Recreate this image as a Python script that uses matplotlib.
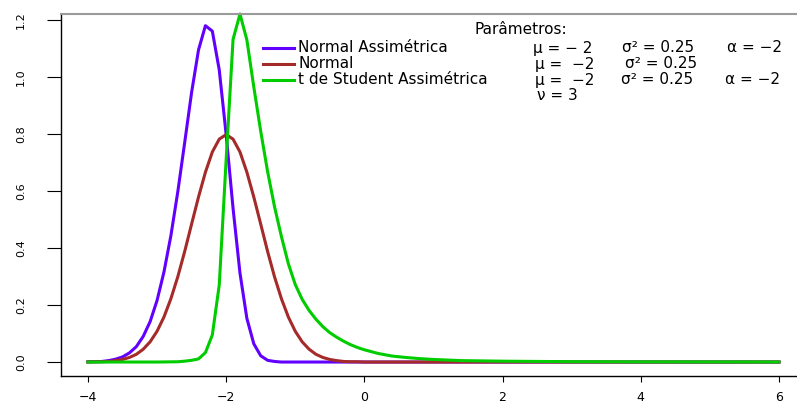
import matplotlib
matplotlib.use("Agg")
import matplotlib.pyplot as plt
from matplotlib.lines import Line2D

plt.rcParams['font.family'] = ['DejaVu Sans']

# Normal Assimétrica (mu=-2, s2=0.25, alpha=-2)
x_sn = [-4.0, -3.9, -3.8, -3.7, -3.6, -3.5, -3.4, -3.3, -3.2, -3.1, -3.0,
        -2.9, -2.8, -2.7, -2.6, -2.5, -2.4, -2.3, -2.2, -2.1, -2.0,
        -1.9, -1.8, -1.7, -1.6, -1.5, -1.4, -1.3, -1.2, 6.0]
y_sn = [0.001, 0.001, 0.002, 0.005, 0.010, 0.018, 0.032, 0.054, 0.090, 0.142, 0.216,
        0.316, 0.443, 0.597, 0.770, 0.946, 1.095, 1.180, 1.161, 1.025, 0.798,
        0.539, 0.312, 0.153, 0.064, 0.022, 0.006, 0.002, 0.000, 0.000]

# Normal (mu=-2, s2=0.25)
x_n = [-4.0, -3.9, -3.8, -3.7, -3.6, -3.5, -3.4, -3.3, -3.2, -3.1, -3.0,
       -2.9, -2.8, -2.7, -2.6, -2.5, -2.4, -2.3, -2.2, -2.1, -2.0,
       -1.9, -1.8, -1.7, -1.6, -1.5, -1.4, -1.3, -1.2, -1.1, -1.0,
       -0.9, -0.8, -0.7, -0.6, -0.5, -0.4, -0.3, -0.2, -0.1, 0.0, 6.0]
y_n = [0.000, 0.001, 0.001, 0.002, 0.005, 0.009, 0.016, 0.027, 0.045, 0.071, 0.108,
       0.158, 0.222, 0.299, 0.388, 0.484, 0.579, 0.666, 0.737, 0.782, 0.798,
       0.782, 0.737, 0.666, 0.579, 0.484, 0.388, 0.299, 0.222, 0.158, 0.108,
       0.071, 0.045, 0.027, 0.016, 0.009, 0.005, 0.002, 0.001, 0.001, 0.000, 0.000]

# t de Student Assimétrica (mu=-2, s2=0.25, alpha=-2, nu=3)
x_st = [-4.0, -3.0, -2.7, -2.6, -2.5, -2.4, -2.3, -2.2, -2.1, -2.0,
        -1.9, -1.8, -1.7, -1.6, -1.5, -1.4, -1.3, -1.2, -1.1, -1.0,
        -0.9, -0.8, -0.7, -0.6, -0.5, -0.4, -0.3, -0.2, -0.1, 0.0,
        0.2, 0.4, 0.6, 0.8, 1.0, 1.4, 2.0, 3.0, 4.0, 6.0]
y_st = [0.000, 0.000, 0.001, 0.003, 0.006, 0.011, 0.033, 0.095, 0.270, 0.710,
        1.132, 1.221, 1.130, 0.965, 0.810, 0.668, 0.545, 0.440, 0.345, 0.272,
        0.220, 0.181, 0.150, 0.124, 0.103, 0.087, 0.073, 0.061, 0.051, 0.043,
        0.030, 0.021, 0.016, 0.012, 0.009, 0.005, 0.003, 0.0012, 0.0006, 0.0002]

labels = ["Normal Assimétrica", "Normal", "t de Student Assimétrica"]
colors = ["#6200ff", "#a52a2a", "#00cc00"]

W, H = 797, 404
fig = plt.figure(figsize=(W / 100, H / 100), dpi=100)
ax = fig.add_axes([61 / W, 28 / H, (806.6 - 61) / W, (376 - 14) / H])

for xs, ys, c in zip([x_sn, x_n, x_st], [y_sn, y_n, y_st], colors):
    ax.plot(xs, ys, color=c, lw=2.2, clip_on=False)

ax.set_xlim(-4.39, 6.4)
ax.set_ylim(-0.049, 1.221)
ax.set_xticks([-4, -2, 0, 2, 4, 6])
ax.set_yticks([0, 0.2, 0.4, 0.6, 0.8, 1.0, 1.2])
ax.set_yticklabels(["0.0", "0.2", "0.4", "0.6", "0.8", "1.0", "1.2"],
                   rotation=90, va='center')
ax.tick_params(axis='y', length=10, width=0.8, pad=15, labelsize=8, colors='black')
ax.tick_params(axis='x', length=4.5, width=0.8, pad=6.5, labelsize=9)
ax.spines['right'].set_visible(False)
ax.spines['top'].set_color('#9a9a9a')
ax.spines['top'].set_linewidth(1.5)
for s in ['left', 'bottom']:
    ax.spines[s].set_linewidth(1.0)

# legend written by hand, positions in pixels
def fx(px):
    return px / W

def fy(py):
    return 1 - py / H

fs = 11
fig.text(fx(521), fy(29), "Parâmetros:", ha='center', va='center', fontsize=fs)
rows_y = [48, 64, 80]
for lab, c, ry in zip(labels, colors, rows_y):
    fig.add_artist(Line2D([fx(263), fx(294)], [fy(ry), fy(ry)], color=c, lw=2.2))
    fig.text(fx(298), fy(ry), lab, ha='left', va='center', fontsize=fs)

params = [
    (533, 48, "μ = − 2"), (622, 48, "σ² = 0.25"), (727, 48, "α = −2"),
    (535, 64, "μ =  −2"), (625, 64, "σ² = 0.25"),
    (535, 80, "μ =  −2"), (621, 80, "σ² = 0.25"), (725, 80, "α = −2"),
    (537, 96, "ν = 3"),
]
for px, py, t in params:
    fig.text(fx(px), fy(py), t, ha='left', va='center', fontsize=fs)

fig.savefig("out.png", dpi=100)
